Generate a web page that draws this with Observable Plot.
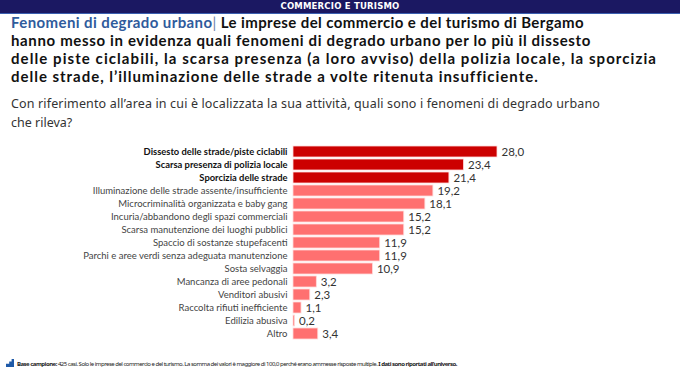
<!DOCTYPE html>
<html><head><meta charset="utf-8">
<script src="https://cdn.jsdelivr.net/npm/d3@7"></script>
<script src="https://cdn.jsdelivr.net/npm/@observablehq/plot@0.6"></script>
<style>
html,body{margin:0;padding:0;background:#fff;width:680px;height:370px;overflow:hidden;position:relative;font-family:"Noto Sans",sans-serif;}
#hdr{position:absolute;left:0;top:0;width:680px;height:13px;background:#1b1862;border-bottom:1.5px solid #3a5fb0;color:#fff;font:bold 8.5px "DejaVu Sans",sans-serif;text-align:center;line-height:13px;letter-spacing:0.2px;}
#title{position:absolute;left:11px;top:13px;font:bold 15px/18px Lato,sans-serif;color:#111;white-space:nowrap;}
#title .blue{color:#2f5b9c;}
.ln{display:block;white-space:nowrap;width:max-content;}
#sub{position:absolute;left:11px;top:95px;font:12.5px/18.5px "Noto Sans",sans-serif;color:#333;white-space:nowrap;}
#chart{position:absolute;left:0;top:137px;}
#foot{position:absolute;left:6px;top:359px;font:6px "Noto Sans",sans-serif;color:#222;white-space:nowrap;}
#foot .ico{display:inline-block;width:8px;height:8px;background:#1f5aa8;vertical-align:-1px;margin-right:3px;clip-path:polygon(0 100%,0 60%,40% 60%,40% 30%,70% 30%,70% 0,100% 0,100% 100%);}
</style></head>
<body>
<div id="hdr">COMMERCIO E TURISMO</div>
<div id="title">
<span class="ln" data-w="573"><span class="blue">Fenomeni di degrado urbano</span><span style="color:#6b7fa8;font-weight:normal">|</span> Le imprese del commercio e del turismo di Bergamo</span>
<span class="ln" data-w="580">hanno messo in evidenza quali fenomeni di degrado urbano per lo più il dissesto</span>
<span class="ln" data-w="646">delle piste ciclabili, la scarsa presenza (a loro avviso) della polizia locale, la sporcizia</span>
<span class="ln" data-w="527">delle strade, l’illuminazione delle strade a volte ritenuta insufficiente.</span>
</div>
<div id="sub">
<span class="ln" data-w="589">Con riferimento all’area in cui è localizzata la sua attività, quali sono i fenomeni di degrado urbano</span>
<span class="ln">che rileva?</span>
</div>
<div id="chart"></div>
<div id="foot"><span class="ico"></span><span id="foottxt"><b>Base campione:</b> 425 casi. Solo le imprese del commercio e del turismo. La somma dei valori è maggiore di 100,0 perché erano ammesse risposte multiple. <b>I dati sono riportati all’universo.</b></span></div>
<script>
const categories = [
  "Dissesto delle strade/piste ciclabili",
  "Scarsa presenza di polizia locale",
  "Sporcizia delle strade",
  "Illuminazione delle strade assente/insufficiente",
  "Microcriminalità organizzata e baby gang",
  "Incuria/abbandono degli spazi commerciali",
  "Scarsa manutenzione dei luoghi pubblici",
  "Spaccio di sostanze stupefacenti",
  "Parchi e aree verdi senza adeguata manutenzione",
  "Sosta selvaggia",
  "Mancanza di aree pedonali",
  "Venditori abusivi",
  "Raccolta rifiuti inefficiente",
  "Edilizia abusiva",
  "Altro"
];
const values = [28.0, 23.4, 21.4, 19.2, 18.1, 15.2, 15.2, 11.9, 11.9, 10.9, 3.2, 2.3, 1.1, 0.2, 3.4];
const highlighted = [true, true, true, false, false, false, false, false, false, false, false, false, false, false, false];

const data = categories.map((c, i) => ({cat: c, val: values[i], grp: highlighted[i] ? "top" : "other"}));
const fmt = v => v.toFixed(1).replace(".", ",");

const chart = Plot.plot({
  width: 680,
  height: 210,
  marginLeft: 293,
  marginRight: 183,
  marginTop: 0,
  marginBottom: 0,
  x: {domain: [0, 28], axis: null},
  y: {domain: categories, padding: 0.17, axis: null},
  color: {domain: ["top", "other"], range: ["#cc0000", "#ff7070"]},
  style: {fontFamily: "Lato, sans-serif", overflow: "visible"},
  marks: [
    Plot.barX(data, {y: "cat", x: "val", fill: "grp", stroke: "#ffd9d9", strokeWidth: 0.8}),
    Plot.text(data, {y: "cat", x: "val", text: d => fmt(d.val), textAnchor: "start", dx: 4, fontSize: 11.5, fill: "#333"}),
    Plot.text(data.filter(d => d.grp === "top"), {y: "cat", x: 0, text: "cat", textAnchor: "end", dx: -6, fontSize: 9.4, fontWeight: "bold", fill: "#111"}),
    Plot.text(data.filter(d => d.grp !== "top"), {y: "cat", x: 0, text: "cat", textAnchor: "end", dx: -6, fontSize: 9.5, fill: "#444"})
  ]
});
document.getElementById("chart").appendChild(chart);

function fit(el, target) {
  const w = el.getBoundingClientRect().width;
  const n = el.textContent.length;
  el.style.letterSpacing = ((target - w) / n) + "px";
}
document.querySelectorAll(".ln[data-w]").forEach(el => fit(el, +el.dataset.w));
fit(document.getElementById("foottxt"), 440);
</script>
</body></html>
